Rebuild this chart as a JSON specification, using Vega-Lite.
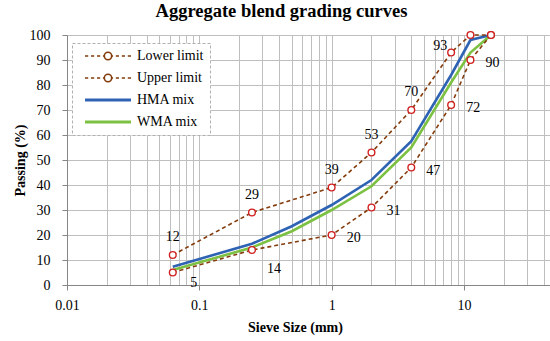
{
  "$schema": "https://vega.github.io/schema/vega-lite/v6.json",
  "width": 483,
  "height": 250,
  "autosize": {"type": "none"},
  "padding": {"left": 67, "top": 35, "right": 0, "bottom": 56},
  "background": "white",
  "title": {
    "text": "Aggregate blend grading curves",
    "font": "Liberation Serif",
    "fontSize": 18.5,
    "fontWeight": "bold",
    "color": "#000000",
    "anchor": "middle",
    "dx": -27,
    "offset": 8
  },
  "config": {
    "view": {"stroke": null},
    "font": "Liberation Serif",
    "axis": {
      "labelFont": "Liberation Serif",
      "labelFontSize": 14,
      "labelColor": "#000000",
      "titleFont": "Liberation Serif",
      "titleFontSize": 14,
      "titleFontWeight": "bold",
      "titleColor": "#000000",
      "gridColor": "#bfbfbf",
      "gridWidth": 1,
      "domainColor": "#868686",
      "tickColor": "#868686",
      "tickSize": 5
    }
  },
  "data": {
    "values": [
      {"series": "Lower limit", "size": 0.063, "passing": 5},
      {"series": "Lower limit", "size": 0.25, "passing": 14},
      {"series": "Lower limit", "size": 1, "passing": 20},
      {"series": "Lower limit", "size": 2, "passing": 31},
      {"series": "Lower limit", "size": 4, "passing": 47},
      {"series": "Lower limit", "size": 8, "passing": 72},
      {"series": "Lower limit", "size": 11.2, "passing": 90},
      {"series": "Lower limit", "size": 16, "passing": 100},
      {"series": "Upper limit", "size": 0.063, "passing": 12},
      {"series": "Upper limit", "size": 0.25, "passing": 29},
      {"series": "Upper limit", "size": 1, "passing": 39},
      {"series": "Upper limit", "size": 2, "passing": 53},
      {"series": "Upper limit", "size": 4, "passing": 70},
      {"series": "Upper limit", "size": 8, "passing": 93},
      {"series": "Upper limit", "size": 11.2, "passing": 100},
      {"series": "Upper limit", "size": 16, "passing": 100},
      {"series": "HMA mix", "size": 0.063, "passing": 7.3},
      {"series": "HMA mix", "size": 0.25, "passing": 16.5},
      {"series": "HMA mix", "size": 0.5, "passing": 23.5},
      {"series": "HMA mix", "size": 1, "passing": 32},
      {"series": "HMA mix", "size": 2, "passing": 42},
      {"series": "HMA mix", "size": 4, "passing": 57.5},
      {"series": "HMA mix", "size": 8, "passing": 84},
      {"series": "HMA mix", "size": 11.2, "passing": 98},
      {"series": "HMA mix", "size": 16, "passing": 100},
      {"series": "WMA mix", "size": 0.063, "passing": 6},
      {"series": "WMA mix", "size": 0.25, "passing": 15},
      {"series": "WMA mix", "size": 0.5, "passing": 21.5},
      {"series": "WMA mix", "size": 1, "passing": 30},
      {"series": "WMA mix", "size": 2, "passing": 39.5},
      {"series": "WMA mix", "size": 4, "passing": 55},
      {"series": "WMA mix", "size": 8, "passing": 81},
      {"series": "WMA mix", "size": 11.2, "passing": 93},
      {"series": "WMA mix", "size": 16, "passing": 100}
    ]
  },
  "encoding": {
    "x": {
      "field": "size",
      "type": "quantitative",
      "scale": {"type": "log", "domain": [0.01, 44.7], "nice": false},
      "axis": {
        "title": "Sieve Size (mm)",
        "titlePadding": 8,
        "titleX": 228,
        "values": [0.01,0.02,0.03,0.04,0.05,0.06,0.07,0.08,0.09,0.1,0.2,0.3,0.4,0.5,0.6,0.7,0.8,0.9,1,2,3,4,5,6,7,8,9,10,20,30,40],
        "labelExpr": "indexof([0.01,0.1,1,10], datum.value) >= 0 ? toString(datum.value) : ''",
        "labelOverlap": false,
        "labelFlush": false,
        "labelPadding": 8,
        "tickOpacity": {"condition": {"test": "indexof([0.01,0.1,1,10], datum.value) >= 0", "value": 1}, "value": 0}
      }
    },
    "y": {
      "field": "passing",
      "type": "quantitative",
      "scale": {"domain": [0, 100], "nice": false},
      "axis": {
        "title": "Passing (%)",
        "values": [0,10,20,30,40,50,60,70,80,90,100],
        "labelPadding": 12,
        "titlePadding": 2
      }
    }
  },
  "layer": [
    {
      "transform": [{"filter": "datum.series === 'HMA mix' || datum.series === 'WMA mix'"}],
      "mark": {"type": "line", "strokeWidth": 2.6},
      "encoding": {
        "color": {
          "field": "series",
          "type": "nominal",
          "scale": {
            "domain": ["Lower limit", "Upper limit", "HMA mix", "WMA mix"],
            "range": ["#843c0c", "#843c0c", "#2e63b3", "#7cc142"]
          },
          "legend": {
            "title": null,
            "orient": "none",
            "legendX": 5,
            "legendY": 8,
            "direction": "vertical",
            "labelFont": "Liberation Serif",
            "labelFontSize": 14,
            "labelColor": "#000000",
            "symbolOffset": 23,
            "labelOffset": 22,
            "symbolSize": 2116,
            "rowPadding": 8,
            "padding": 6,
            "strokeColor": "#b0b0b0",
            "fillColor": "white",
            "symbolStrokeWidth": 2,
            "encode": {
              "legend": {
                "update": {
                  "strokeDash": {"value": [3, 2]}
                }
              },
              "symbols": {
                "update": {
                  "shape": {"signal": "indexof(['HMA mix','WMA mix'], datum.value) >= 0 ? 'stroke' : 'M-1,0H-0.86M-0.74,0H-0.6M-0.48,0H-0.34M-0.22,0H-0.17M0.17,0H0.22M0.34,0H0.48M0.6,0H0.74M0.86,0H1M0.16,0A0.16,0.16 0 1 1 -0.16,0A0.16,0.16 0 1 1 0.16,0Z'"},
                  "strokeWidth": {"signal": "indexof(['HMA mix','WMA mix'], datum.value) >= 0 ? 3 : 1.6"},
                  "fill": {"value": "white"}
                }
              }
            }
          }
        }
      }
    },
    {
      "transform": [{"filter": "datum.series === 'Lower limit' || datum.series === 'Upper limit'"}],
      "mark": {"type": "line", "strokeWidth": 1.6, "strokeDash": [4, 3], "color": "#843c0c"},
      "encoding": {"detail": {"field": "series", "type": "nominal"}}
    },
    {
      "transform": [{"filter": "datum.series === 'Lower limit' || datum.series === 'Upper limit'"}],
      "mark": {"type": "point", "shape": "circle", "filled": true, "fill": "white", "stroke": "#d02020", "strokeWidth": 1.4, "size": 45, "opacity": 1}
    },
    {
      "transform": [{"filter": "datum.series === 'Upper limit' && datum.passing < 90"}],
      "mark": {"type": "text", "dy": -18, "font": "Liberation Serif", "fontSize": 14, "color": "#000000"},
      "encoding": {"text": {"field": "passing", "type": "quantitative"}}
    },
    {
      "transform": [{"filter": "datum.series === 'Upper limit' && datum.passing == 93"}],
      "mark": {"type": "text", "dx": -11, "dy": -7, "font": "Liberation Serif", "fontSize": 14, "color": "#000000"},
      "encoding": {"text": {"field": "passing", "type": "quantitative"}}
    },
    {
      "transform": [{"filter": "datum.series === 'Lower limit' && datum.passing == 5"}],
      "mark": {"type": "text", "dx": 21, "dy": 10, "font": "Liberation Serif", "fontSize": 14, "color": "#000000"},
      "encoding": {"text": {"field": "passing", "type": "quantitative"}}
    },
    {
      "transform": [{"filter": "datum.series === 'Lower limit' && datum.passing == 14"}],
      "mark": {"type": "text", "dx": 22, "dy": 19, "font": "Liberation Serif", "fontSize": 14, "color": "#000000"},
      "encoding": {"text": {"field": "passing", "type": "quantitative"}}
    },
    {
      "transform": [{"filter": "datum.series === 'Lower limit' && datum.passing > 14 && datum.passing < 100"}],
      "mark": {"type": "text", "dx": 22, "dy": 3, "font": "Liberation Serif", "fontSize": 14, "color": "#000000"},
      "encoding": {"text": {"field": "passing", "type": "quantitative"}}
    }
  ]
}
